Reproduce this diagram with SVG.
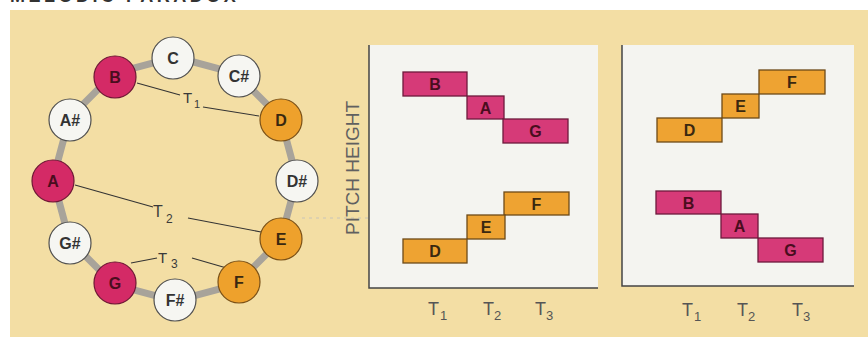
<svg xmlns="http://www.w3.org/2000/svg" width="868" height="337" viewBox="0 0 868 337">
<style>
.nt{font-family:"Liberation Sans",Arial,sans-serif;font-weight:bold;font-size:16px;text-anchor:middle}
.w circle{fill:#f6f6f2;stroke:#505050;stroke-width:1.2}
.w text{fill:#333}
.m circle{fill:#d42a66;stroke:#6e1634;stroke-width:1.2}
.m text{fill:#4a0d1e}
.o circle{fill:#eea12c;stroke:#7a5016;stroke-width:1.2}
.o text{fill:#3a2810}
.lbl{font-family:"Liberation Sans",Arial,sans-serif;fill:#3a3a3a}
.ax{font-family:"Liberation Sans",Arial,sans-serif;fill:#555}
.conn line{stroke:#333;stroke-width:1.1}
.mb rect{fill:#d63a78;stroke:#6e1a3c;stroke-width:1.3}
.mb text{fill:#4a0d1e}
.ob rect{fill:#eea332;stroke:#6e4a18;stroke-width:1.3}
.ob text{fill:#3a2810}
.panel{fill:#f4f4f0}
.axis{stroke:#444;stroke-width:1.5;fill:none}
</style>
<rect x="0" y="0" width="868" height="337" fill="#ffffff"/>
<rect x="10" y="10" width="858" height="327" fill="#f3dea4"/>
<text x="10" y="2" font-family="Liberation Sans,Arial,sans-serif" font-weight="bold" font-size="18" letter-spacing="3.5" fill="#333">MELODIC PARADOX</text>

<polygon points="175,57 236,73.4 280.6,118 297,179 280.6,240 236,284.6 175,301 114,284.6 69.4,240 53,179 69.4,118 114,73.4" fill="none" stroke="#a8a39a" stroke-width="7"/>

<g id="connectors" class="conn">
<line x1="137" y1="83" x2="180" y2="95"/>
<line x1="203" y1="107" x2="259" y2="116"/>
<line x1="75" y1="185" x2="153" y2="207"/>
<line x1="188" y1="218" x2="261" y2="232"/>
<line x1="131" y1="263" x2="157" y2="258"/>
<line x1="192" y1="258" x2="230" y2="269"/>
<line x1="302" y1="218" x2="450" y2="218" style="stroke:#c8c4b8;stroke-width:1;stroke-dasharray:3 4"/>
</g>
<g id="t1" class="lbl"><text x="183" y="103" font-size="15">T</text><text x="194" y="108" font-size="11">1</text></g>
<g id="t2" class="lbl"><text x="153" y="217" font-size="16">T</text><text x="166" y="223" font-size="12">2</text></g>
<g id="t3" class="lbl"><text x="158" y="263" font-size="15">T</text><text x="171" y="268" font-size="12">3</text></g>

<g id="nC" class="nt w"><circle cx="173" cy="58" r="21"/><text x="173" y="64">C</text></g>
<g id="nCs" class="nt w"><circle cx="239" cy="76" r="21"/><text x="239" y="82">C#</text></g>
<g id="nD" class="nt o"><circle cx="281" cy="120" r="21"/><text x="281" y="126">D</text></g>
<g id="nDs" class="nt w"><circle cx="297" cy="181" r="21"/><text x="297" y="187">D#</text></g>
<g id="nE" class="nt o"><circle cx="281" cy="239" r="21"/><text x="281" y="245">E</text></g>
<g id="nF" class="nt o"><circle cx="239" cy="282" r="21"/><text x="239" y="288">F</text></g>
<g id="nFs" class="nt w"><circle cx="175" cy="300" r="21"/><text x="175" y="306">F#</text></g>
<g id="nG" class="nt m"><circle cx="115" cy="283" r="21"/><text x="115" y="289">G</text></g>
<g id="nGs" class="nt w"><circle cx="70" cy="243" r="21"/><text x="70" y="249">G#</text></g>
<g id="nA" class="nt m"><circle cx="53" cy="181" r="21"/><text x="53" y="187">A</text></g>
<g id="nAs" class="nt w"><circle cx="70" cy="120" r="21"/><text x="70" y="126">A#</text></g>
<g id="nB" class="nt m"><circle cx="115" cy="77" r="21"/><text x="115" y="83">B</text></g>

<g id="panel1">
<rect class="panel" x="369" y="45" width="229" height="243"/>
<polyline class="axis" points="369,45 369,288 598,288"/>
<text transform="translate(359,168) rotate(-90)" text-anchor="middle" font-family="Liberation Sans,Arial,sans-serif" font-size="19" fill="#606060">PITCH HEIGHT</text>
<g class="nt mb"><rect x="403" y="72" width="64" height="24"/><text x="435" y="90">B</text></g>
<g class="nt mb"><rect x="467" y="96" width="37" height="23"/><text x="485.5" y="113.5">A</text></g>
<g class="nt mb"><rect x="503" y="119" width="65" height="24"/><text x="535.5" y="137">G</text></g>
<g class="nt ob"><rect x="504" y="192" width="65" height="23"/><text x="536.5" y="209.5">F</text></g>
<g class="nt ob"><rect x="467" y="215" width="38" height="24"/><text x="486" y="233">E</text></g>
<g class="nt ob"><rect x="403" y="239" width="64" height="24"/><text x="435" y="257">D</text></g>
<g class="ax"><text x="428" y="315" font-size="18">T</text><text x="440" y="320" font-size="13">1</text></g>
<g class="ax"><text x="483" y="315" font-size="18">T</text><text x="494" y="320" font-size="13">2</text></g>
<g class="ax"><text x="535" y="315" font-size="18">T</text><text x="546" y="320" font-size="13">3</text></g>
</g>

<g id="panel2">
<rect class="panel" x="622" y="45" width="232" height="241"/>
<polyline class="axis" points="622,45 622,286 854,286"/>
<g class="nt ob"><rect x="657" y="118" width="65" height="24"/><text x="689.5" y="136">D</text></g>
<g class="nt ob"><rect x="722" y="94" width="37" height="24"/><text x="740.5" y="112">E</text></g>
<g class="nt ob"><rect x="759" y="70" width="66" height="24"/><text x="792" y="88">F</text></g>
<g class="nt mb"><rect x="656" y="191" width="65" height="23"/><text x="688.5" y="208.5">B</text></g>
<g class="nt mb"><rect x="721" y="214" width="37" height="24"/><text x="739.5" y="232">A</text></g>
<g class="nt mb"><rect x="758" y="238" width="65" height="24"/><text x="790.5" y="256">G</text></g>
<g class="ax"><text x="682" y="316" font-size="18">T</text><text x="694" y="321" font-size="13">1</text></g>
<g class="ax"><text x="737" y="316" font-size="18">T</text><text x="748" y="321" font-size="13">2</text></g>
<g class="ax"><text x="792" y="316" font-size="18">T</text><text x="803" y="321" font-size="13">3</text></g>
</g>
</svg>
